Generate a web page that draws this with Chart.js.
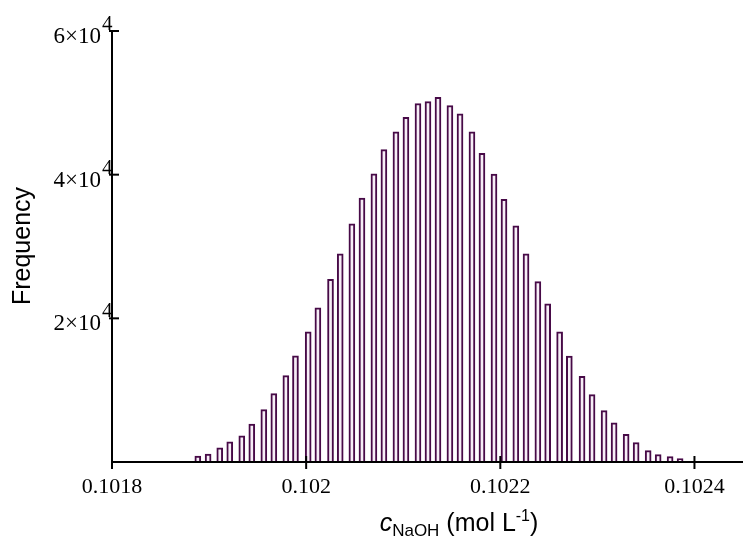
<!DOCTYPE html>
<html>
<head>
<meta charset="utf-8">
<script src="https://cdn.jsdelivr.net/npm/chart.js@4"></script>
<style>
  body { margin: 0; background: #fff; }
  canvas { display: block; }
</style>
</head>
<body>
<canvas id="histChart" width="743" height="545"></canvas>
<script>
// Bin centres of the histogram (mol/L)
const binCenters = [
    0.1018884, 0.1018990, 0.1019110, 0.1019213, 0.1019337, 0.1019440, 0.1019564, 0.1019667,
    0.1019791, 0.1019890, 0.1020021, 0.1020121, 0.1020251, 0.1020351, 0.1020471, 0.1020575,
    0.1020698, 0.1020801, 0.1020925, 0.1021028, 0.1021152, 0.1021255, 0.1021358, 0.1021481,
    0.1021585, 0.1021708, 0.1021811, 0.1021935, 0.1022038, 0.1022160, 0.1022265, 0.1022387,
    0.1022488, 0.1022611, 0.1022711, 0.1022842, 0.1022945, 0.1023069, 0.1023172, 0.1023296,
    0.1023399, 0.1023523, 0.1023626, 0.1023749, 0.1023852
];

// Counts per bin
const frequencies = [
    810, 1090, 1980, 2820, 3660, 5280, 7290, 9520,
    12030, 14770, 18120, 21470, 25430, 28970, 33150, 36740,
    40130, 43480, 45960, 47990, 49910, 50190, 50750, 49630,
    48470, 45960, 42970, 40090, 36550, 32880, 28970, 25100,
    22030, 18120, 14730, 11940, 9380, 7150, 5470, 3840,
    2720, 1600, 1050, 770, 490
];

// Axis ticks
const xTicks = [0.1018, 0.1020, 0.1022, 0.1024];
const xTickLabels = ['0.1018', '0.102', '0.1022', '0.1024'];
const yTicks = [20000, 40000, 60000];
const yTickMantissa = ['2', '4', '6'];

const xMin = 0.1018;
const xMax = 0.10245;
const yMax = 60000;

const serif = '"Liberation Serif", "Times New Roman", serif';
const sans = '"Liberation Sans", Arial, sans-serif';

// Draws axis lines, crossing tick marks and the labels
const axesPlugin = {
    id: 'axesPlugin',
    afterDatasetsDraw(chart) {
        const ctx = chart.ctx;
        const area = chart.chartArea;
        const xs = chart.scales.x;
        const ys = chart.scales.y;
        const x0 = area.left;
        const y0 = ys.getPixelForValue(0);

        ctx.save();
        ctx.strokeStyle = '#000';
        ctx.lineWidth = 2;

        // axis lines
        ctx.beginPath();
        ctx.moveTo(x0, ys.getPixelForValue(yMax));
        ctx.lineTo(x0, y0);
        ctx.lineTo(area.right, y0);
        ctx.stroke();

        // x ticks + labels
        ctx.fillStyle = '#000';
        ctx.font = '22px ' + serif;
        ctx.textAlign = 'center';
        ctx.textBaseline = 'alphabetic';
        xTicks.forEach((v, i) => {
            const px = xs.getPixelForValue(v);
            ctx.beginPath();
            ctx.moveTo(px, y0 - 6);
            ctx.lineTo(px, y0 + 7);
            ctx.stroke();
            ctx.fillText(xTickLabels[i], px, y0 + 31);
        });

        // y ticks + labels (n×10^4)
        yTicks.forEach((v, i) => {
            const py = ys.getPixelForValue(v);
            ctx.beginPath();
            ctx.moveTo(x0 - 3, py);
            ctx.lineTo(x0 + 7, py);
            ctx.stroke();
            ctx.font = '23px ' + serif;
            ctx.textAlign = 'right';
            ctx.fillText(yTickMantissa[i] + '\u00d710', x0 - 11, py + 12);
            ctx.font = '21px ' + serif;
            ctx.textAlign = 'left';
            ctx.fillText('4', x0 - 10, py - 1);
        });

        // y title
        ctx.save();
        ctx.translate(23, 246);
        ctx.rotate(-Math.PI / 2);
        ctx.font = '25px ' + sans;
        ctx.textAlign = 'center';
        ctx.textBaseline = 'middle';
        ctx.fillText('Frequency', 0, 0);
        ctx.restore();

        // x title: c_NaOH (mol L^-1)
        const parts = [
            { t: 'c', f: 'italic 25px ' + sans, dy: 0 },
            { t: 'NaOH', f: '17px ' + sans, dy: 5 },
            { t: ' (mol L', f: '25px ' + sans, dy: 0 },
            { t: '-1', f: '16px ' + sans, dy: -10 },
            { t: ')', f: '25px ' + sans, dy: 0 }
        ];
        ctx.textAlign = 'left';
        let total = 0;
        parts.forEach(p => { ctx.font = p.f; p.w = ctx.measureText(p.t).width; total += p.w; });
        let cx = 459 - total / 2;
        parts.forEach(p => {
            ctx.font = p.f;
            ctx.fillText(p.t, cx, 531 + p.dy);
            cx += p.w;
        });

        ctx.restore();
    }
};

const ctx = document.getElementById('histChart').getContext('2d');

new Chart(ctx, {
    type: 'bar',
    data: {
        datasets: [{
            data: binCenters.map((c, i) => ({ x: c, y: frequencies[i] })),
            backgroundColor: '#f7eef7',
            borderColor: '#470a47',
            borderWidth: 2,
            borderSkipped: 'start',
            barThickness: 6
        }]
    },
    options: {
        responsive: false,
        animation: false,
        devicePixelRatio: 1,
        layout: {
            padding: { left: 112, right: 0, top: 31, bottom: 83 }
        },
        plugins: {
            legend: { display: false },
            tooltip: { enabled: false }
        },
        scales: {
            x: {
                type: 'linear',
                min: xMin,
                max: xMax,
                offset: false,
                display: false
            },
            y: {
                min: 0,
                max: yMax,
                display: false
            }
        }
    },
    plugins: [axesPlugin]
});
</script>
</body>
</html>
